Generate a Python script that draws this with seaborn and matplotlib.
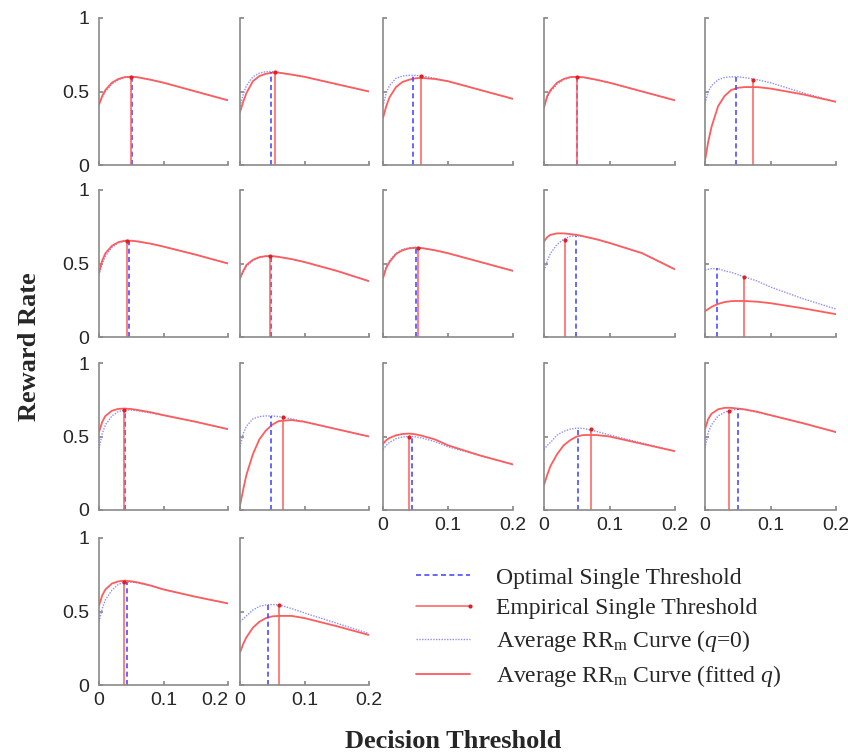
import numpy as np
import pandas as pd
import matplotlib
matplotlib.use("Agg")
import matplotlib.pyplot as plt
import seaborn as sns
from matplotlib.lines import Line2D
from matplotlib.legend_handler import HandlerBase

# ---------------- data ----------------
thresholds = [0, 0.005, 0.01, 0.02, 0.03, 0.04, 0.05, 0.06, 0.08, 0.1, 0.15, 0.2]

# average RRm curve with q = 0 (blue dotted), one row per subject
rr_q0 = [
    [0.41, 0.46, 0.50, 0.55, 0.58, 0.595, 0.60, 0.595, 0.58, 0.56, 0.50, 0.44],
    [0.40, 0.48, 0.54, 0.60, 0.625, 0.635, 0.635, 0.63, 0.615, 0.60, 0.55, 0.50],
    [0.40, 0.49, 0.54, 0.59, 0.605, 0.61, 0.61, 0.605, 0.59, 0.57, 0.51, 0.45],
    [0.40, 0.46, 0.50, 0.55, 0.58, 0.595, 0.60, 0.595, 0.58, 0.56, 0.50, 0.44],
    [0.42, 0.50, 0.54, 0.58, 0.595, 0.60, 0.60, 0.595, 0.58, 0.56, 0.49, 0.43],
    [0.42, 0.50, 0.55, 0.61, 0.64, 0.653, 0.655, 0.65, 0.635, 0.615, 0.56, 0.50],
    [0.39, 0.44, 0.48, 0.52, 0.54, 0.55, 0.55, 0.545, 0.53, 0.51, 0.45, 0.38],
    [0.41, 0.48, 0.52, 0.57, 0.595, 0.607, 0.61, 0.605, 0.59, 0.57, 0.51, 0.45],
    [0.45, 0.52, 0.57, 0.63, 0.665, 0.685, 0.69, 0.685, 0.665, 0.64, 0.57, 0.46],
    [0.455, 0.46, 0.465, 0.465, 0.45, 0.44, 0.425, 0.41, 0.38, 0.34, 0.26, 0.19],
    [0.42, 0.52, 0.58, 0.64, 0.67, 0.68, 0.68, 0.675, 0.66, 0.645, 0.60, 0.55],
    [0.43, 0.52, 0.57, 0.62, 0.635, 0.64, 0.64, 0.635, 0.62, 0.60, 0.55, 0.50],
    [0.41, 0.44, 0.46, 0.485, 0.497, 0.50, 0.498, 0.49, 0.465, 0.43, 0.37, 0.31],
    [0.41, 0.44, 0.46, 0.51, 0.535, 0.55, 0.557, 0.555, 0.535, 0.51, 0.455, 0.40],
    [0.42, 0.53, 0.58, 0.64, 0.665, 0.68, 0.685, 0.683, 0.665, 0.645, 0.59, 0.53],
    [0.43, 0.52, 0.58, 0.645, 0.685, 0.70, 0.70, 0.695, 0.675, 0.65, 0.60, 0.555],
    [0.43, 0.45, 0.47, 0.51, 0.535, 0.545, 0.547, 0.545, 0.52, 0.49, 0.42, 0.35],
]

# average RRm curve with fitted q (red solid)
rr_fit = [
    [0.41, 0.47, 0.51, 0.56, 0.585, 0.598, 0.60, 0.597, 0.58, 0.56, 0.50, 0.44],
    [0.36, 0.43, 0.49, 0.57, 0.605, 0.62, 0.628, 0.628, 0.615, 0.60, 0.55, 0.50],
    [0.32, 0.40, 0.46, 0.53, 0.565, 0.58, 0.59, 0.592, 0.585, 0.57, 0.51, 0.45],
    [0.39, 0.47, 0.51, 0.56, 0.585, 0.598, 0.60, 0.597, 0.58, 0.56, 0.50, 0.44],
    [0.03, 0.16, 0.26, 0.40, 0.47, 0.51, 0.525, 0.53, 0.53, 0.52, 0.48, 0.43],
    [0.44, 0.52, 0.57, 0.62, 0.645, 0.655, 0.655, 0.65, 0.635, 0.615, 0.56, 0.50],
    [0.40, 0.45, 0.49, 0.525, 0.543, 0.55, 0.55, 0.545, 0.53, 0.51, 0.45, 0.38],
    [0.40, 0.47, 0.51, 0.565, 0.59, 0.603, 0.607, 0.605, 0.59, 0.57, 0.51, 0.45],
    [0.65, 0.68, 0.695, 0.705, 0.705, 0.70, 0.695, 0.685, 0.665, 0.64, 0.57, 0.46],
    [0.175, 0.19, 0.205, 0.225, 0.238, 0.244, 0.245, 0.245, 0.24, 0.23, 0.195, 0.155],
    [0.53, 0.60, 0.64, 0.675, 0.688, 0.69, 0.687, 0.68, 0.665, 0.645, 0.60, 0.55],
    [0.03, 0.14, 0.24, 0.38, 0.48, 0.54, 0.58, 0.605, 0.612, 0.60, 0.55, 0.50],
    [0.45, 0.475, 0.49, 0.508, 0.517, 0.52, 0.515, 0.505, 0.48, 0.44, 0.37, 0.31],
    [0.17, 0.24, 0.30, 0.38, 0.44, 0.475, 0.50, 0.51, 0.51, 0.50, 0.45, 0.40],
    [0.55, 0.62, 0.655, 0.685, 0.695, 0.695, 0.69, 0.685, 0.668, 0.645, 0.59, 0.53],
    [0.54, 0.61, 0.65, 0.69, 0.705, 0.71, 0.705, 0.698, 0.677, 0.65, 0.60, 0.555],
    [0.22, 0.28, 0.325, 0.39, 0.43, 0.455, 0.467, 0.47, 0.47, 0.455, 0.40, 0.34],
]

opt_thr = [0.051, 0.048, 0.046, 0.051, 0.047, 0.046, 0.048, 0.051, 0.049, 0.019,
           0.040, 0.048, 0.045, 0.052, 0.050, 0.044, 0.043]
opt_rr = [0.60, 0.635, 0.61, 0.60, 0.60, 0.655, 0.55, 0.61, 0.69, 0.466,
          0.68, 0.64, 0.50, 0.557, 0.685, 0.70, 0.547]
emp_thr = [0.049, 0.054, 0.058, 0.050, 0.073, 0.044, 0.047, 0.054, 0.032, 0.059,
           0.038, 0.066, 0.040, 0.071, 0.037, 0.039, 0.060]
emp_rr = [0.60, 0.633, 0.607, 0.60, 0.58, 0.655, 0.55, 0.607, 0.66, 0.41,
          0.68, 0.633, 0.50, 0.55, 0.675, 0.70, 0.547]

xticks = [0, 0.1, 0.2]
xtick_labels = ["0", "0.1", "0.2"]
yticks = [0, 0.5, 1]
ytick_labels = ["0", "0.5", "1"]

# ---------------- style ----------------
sns.set_theme(style="ticks")
plt.rcParams["font.family"] = ["Liberation Sans", "DejaVu Sans"]
plt.rcParams["mathtext.fontset"] = "custom"
plt.rcParams["mathtext.rm"] = "Liberation Serif"
plt.rcParams["mathtext.it"] = "Liberation Serif:italic"

BLUE_DOT = "#8c8cff"
BLUE_DASH = "#4d4dff"
RED = "#ff5c5c"
GREY = "#8a8a8a"

W, H = 848, 756
fig = plt.figure(figsize=(W / 100, H / 100), dpi=100)

col_left = [99, 240, 383, 544, 705]
col_w = [129, 129, 130, 131, 131]
row_bottom = [165, 337, 510, 685]
panel_h = 147
bottom_panels = {12, 13, 14, 15, 16}

for i in range(len(rr_q0)):
    r, c = divmod(i, 5)
    ax = fig.add_axes([col_left[c] / W, 1 - row_bottom[r] / H, col_w[c] / W, panel_h / H])
    df = pd.DataFrame({"thr": thresholds, "q0": rr_q0[i], "fit": rr_fit[i]})
    sns.lineplot(data=df, x="thr", y="q0", ax=ax, color=BLUE_DOT, lw=1.0,
                 linestyle=(0, (1, 1)))
    sns.lineplot(data=df, x="thr", y="fit", ax=ax, color=RED, lw=1.3)
    ax.vlines(opt_thr[i], 0, opt_rr[i], colors=BLUE_DASH, linestyles=(0, (3, 2)), lw=1.2)
    ax.vlines(emp_thr[i], 0, emp_rr[i], colors=RED, lw=1.1)
    ax.plot([emp_thr[i]], [emp_rr[i]], "o", color="#e02020", ms=2.0)

    ax.set_xlim(0, 0.2)
    ax.set_ylim(0, 1)
    ax.set_xlabel("")
    ax.set_ylabel("")
    ax.set_xticks(xticks)
    ax.set_yticks(yticks)
    sns.despine(ax=ax)
    for s in ("left", "bottom"):
        ax.spines[s].set_color(GREY)
        ax.spines[s].set_linewidth(1.2)
    ax.tick_params(direction="in", length=3, color=GREY, labelsize=14, pad=5)
    ax.tick_params(axis="y", pad=7)
    if c == 0:
        ax.set_yticklabels(ytick_labels)
    else:
        ax.tick_params(labelleft=False)
    if i in bottom_panels:
        labels = ax.set_xticklabels(xtick_labels)
        if i == 15:
            # keep "0.2" clear of the neighbouring panel's "0"
            labels[-1].set_horizontalalignment("right")
    else:
        ax.tick_params(labelbottom=False)


class EndDotHandler(HandlerBase):
    def create_artists(self, legend, orig_handle, xdescent, ydescent,
                       width, height, fontsize, trans):
        y = height / 2 - ydescent
        line = Line2D([-xdescent, width - xdescent], [y, y], color=RED, lw=1.1)
        dot = Line2D([width - xdescent], [y], marker="o", ms=2.0, color="#e02020")
        line.set_transform(trans)
        dot.set_transform(trans)
        return [line, dot]


h_opt = Line2D([], [], color=BLUE_DASH, lw=1.2, linestyle=(0, (3, 2)))
h_emp = Line2D([], [], color=RED, lw=1.1)
h_q0 = Line2D([], [], color=BLUE_DOT, lw=1.0, linestyle=(0, (1, 1)))
h_fit = Line2D([], [], color=RED, lw=1.3)

fig.legend(
    [h_opt, h_emp, h_q0, h_fit],
    ["Optimal Single Threshold", "Empirical Single Threshold",
     "Average RR$_{\\rm m}$ Curve ($q$=0)", "Average RR$_{\\rm m}$ Curve (fitted $q$)"],
    handler_map={h_emp: EndDotHandler()},
    loc="center left", bbox_to_anchor=(416 / W, 1 - 628 / H),
    frameon=False, borderpad=0, borderaxespad=0,
    handlelength=2.3, handletextpad=1.1, labelspacing=0.38,
    prop={"family": "Liberation Serif", "size": 17},
)

fig.text(30 / W, 1 - 347 / H, "Reward Rate", rotation=90, ha="center", va="center",
         family="Liberation Serif", weight="bold", fontsize=19)
fig.text(453 / W, 1 - 742 / H, "Decision Threshold", ha="center", va="center",
         family="Liberation Serif", weight="bold", fontsize=19)

fig.savefig("out.png", dpi=100)
